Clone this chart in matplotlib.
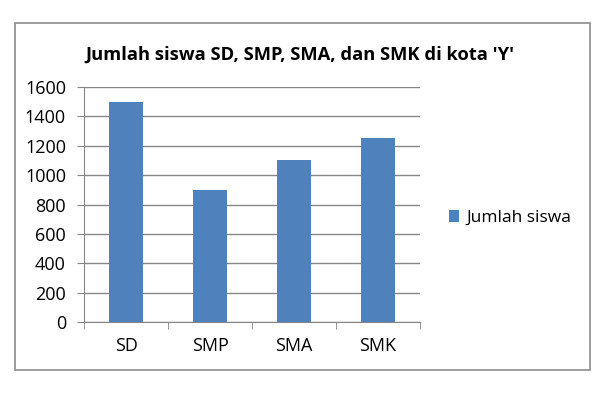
import matplotlib.pyplot as plt
from matplotlib.patches import Rectangle

# data
kategori = ['SD', 'SMP', 'SMA', 'SMK']
jumlah_siswa = [1500, 900, 1100, 1250]
yticks = [0, 200, 400, 600, 800, 1000, 1200, 1400, 1600]

plt.rcParams['font.family'] = ['Open Sans', 'DejaVu Sans']

fig = plt.figure(figsize=(6, 4), dpi=100)
fig.patch.set_facecolor('white')

# bingkai chart
fig.add_artist(Rectangle((15 / 600, 1 - 370 / 400), 575 / 600, 347 / 400,
                         transform=fig.transFigure, fill=False,
                         edgecolor='#8c8c8c', linewidth=1.2))

ax = fig.add_axes([0.14, 0.195, 0.56, 0.5875])
x = range(len(kategori))
ax.bar(x, jumlah_siswa, width=0.4, color='#4f81bd', label='Jumlah siswa', zorder=3)

ax.set_xlim(-0.5, 3.5)
ax.set_ylim(0, 1600)
ax.set_yticks(yticks)
ax.set_yticklabels([str(v) for v in yticks], fontsize=13)
ax.set_xticks(list(x))
ax.set_xticklabels(kategori, fontsize=13)
ax.set_xticks([-0.5, 0.5, 1.5, 2.5, 3.5], minor=True)
ax.tick_params(axis='x', which='major', length=0, pad=11)
ax.tick_params(axis='x', which='minor', length=5, color='#868686', direction='out')
ax.tick_params(axis='y', length=5, color='#868686', pad=8)

ax.grid(axis='y', color='#868686', linewidth=1, zorder=0)
for s in ['top', 'right']:
    ax.spines[s].set_visible(False)
ax.spines['left'].set_color('#868686')
ax.spines['bottom'].set_color('#868686')

ax.set_title("Jumlah siswa SD, SMP, SMA, dan SMK di kota 'Y'",
             fontsize=13.2, fontweight='bold', pad=20, x=0.643)

fig.legend(loc='center left', bbox_to_anchor=(0.722, 0.455), frameon=False,
           fontsize=12.5, handlelength=0.6, handleheight=0.7, handletextpad=0.4)

plt.savefig('out.png', dpi=100)
